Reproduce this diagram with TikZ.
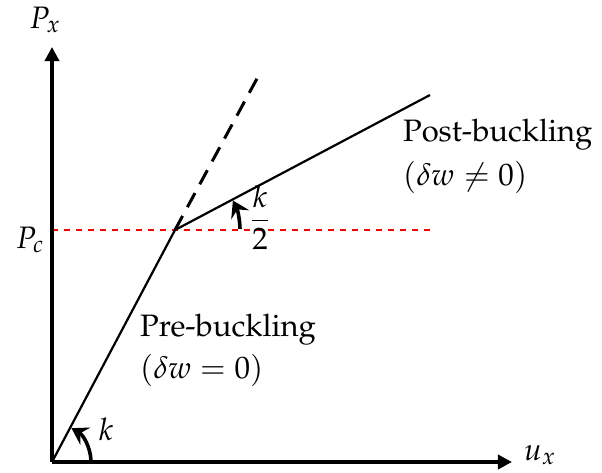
\documentclass[tikz,border=0pt]{standalone}
\usepackage[T1]{fontenc}
\usepackage{amsmath,amssymb}
\usepackage{mathpazo}
\usepackage{tikz}
\usetikzlibrary{arrows.meta}

\begin{document}
\begin{tikzpicture}[x=0.5pt,y=0.5pt,line join=round,
  font=\fontsize{15.5}{18}\selectfont,
  axis/.style={line width=2pt,-{Triangle[length=7pt,width=7pt]}},
  path/.style={line width=1.1pt},
  turn/.style={line width=1.8pt,-{Stealth[length=8pt,width=10pt,inset=3pt]}}]
  \useasboundingbox (0,0) rectangle (602,473);
  \coordinate (O) at (52,11);
  \coordinate (C) at (175,243);
  \coordinate (Ytop) at (52,426);
  \coordinate (Xend) at (512,11);
  \coordinate (D) at (260,400);
  \coordinate (E) at (430,378);
  \coordinate (Rl) at (52,243);
  \coordinate (Rr) at (435,243);
  % load path
  \draw[red,dashed,line width=0.7pt] (Rl) -- (Rr);
  \draw[path] (O) -- (C) -- (E);
  \draw[line width=1.5pt,dash pattern=on 8pt off 5pt] (C) -- (D);
  \draw[axis] (O) -- (Ytop);
  \draw[axis] (O) -- (Xend);
  % stiffness
  \draw[turn] ([shift={(2:39)}]O) arc[start angle=2,end angle=60,radius=39];
  \draw[turn] ([shift={(1:65)}]C) arc[start angle=1,end angle=27,radius=65];
  \node (px) at (45,453) {$P_x$};
  \node (pc) at (30,233) {$P_c$};
  \node (ux) at (540,18) {$u_x$};
  \node (k) at (106,44) {$k$};
  \node (k2) at (260,256) {$\dfrac{k}{2}$};
  \node[anchor=west] (post) at (396,338) {Post-buckling};
  \node[anchor=west] (postw) at (396,296) {$(\delta w\neq 0)$};
  \node[anchor=west] (pre) at (133,143) {Pre-buckling};
  \node[anchor=west] (prew) at (133,103) {$(\delta w=0)$};
\end{tikzpicture}
\end{document}
